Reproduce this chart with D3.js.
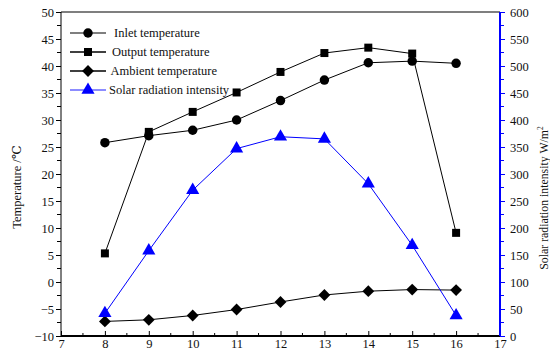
<!DOCTYPE html>
<html>
<head>
<meta charset="utf-8">
<script src="https://cdn.jsdelivr.net/npm/d3@7"></script>
<style>
  body { margin: 0; background: #fff; }
  text { font-family: "Liberation Serif", "DejaVu Serif", serif; fill: #111; }
</style>
</head>
<body>
<div id="chart"></div>
<script>
// hours of day
const hours = [8, 9, 10, 11, 12, 13, 14, 15, 16];
const inletTemp = [25.8, 27.1, 28.1, 30.0, 33.6, 37.4, 40.6, 40.9, 40.5];
const outputTemp = [5.3, 27.8, 31.5, 35.1, 38.9, 42.4, 43.4, 42.3, 9.1];
const ambientTemp = [-7.3, -7.0, -6.2, -5.1, -3.7, -2.4, -1.7, -1.4, -1.5];
const solarRad = [42, 158, 270, 347, 369, 365, 282, 168, 38];
const seriesNames = ['Inlet temperature', 'Output temperature', 'Ambient temperature', 'Solar radiation intensity'];
const xTicks = [7, 8, 9, 10, 11, 12, 13, 14, 15, 16, 17];
const yTicks = [-10, -5, 0, 5, 10, 15, 20, 25, 30, 35, 40, 45, 50];
const y2Ticks = [0, 50, 100, 150, 200, 250, 300, 350, 400, 450, 500, 550, 600];

const W = 550, H = 352;
const margin = {top: 12, right: 50, bottom: 16, left: 61};
const width = W - margin.left - margin.right,
    height = H - margin.top - margin.bottom;

const svg = d3.select('#chart').append('svg').attr('width', W).attr('height', H);
const g = svg.append('g').attr('transform', 'translate(' + margin.left + ',' + margin.top + ')');

let x = d3.scaleLinear().domain([7, 17]).range([0, width]);
let y = d3.scaleLinear().domain([-10, 50]).range([height, 0]);
let y2 = d3.scaleLinear().domain([0, 600]).range([height, 0]);

// top border
g.append('line').attr('x1', 0).attr('x2', width).attr('y1', 0).attr('y2', 0)
    .attr('stroke', '#000').attr('stroke-width', 1.2);

// minor ticks sit halfway between majors
const minor = (ticks) => ticks.slice(0, -1).map((t, i) => (t + ticks[i + 1]) / 2);

// x axis (ticks inward)
let xAxis = g.append('g').attr('transform', 'translate(0,' + height + ')')
    .call(d3.axisBottom(x).tickValues(xTicks).tickSize(-5).tickPadding(3));
xAxis.selectAll('line.minor').data(minor(xTicks)).enter().append('line')
    .attr('x1', d => x(d)).attr('x2', d => x(d)).attr('y1', 0).attr('y2', -3).attr('stroke', '#000');

// left axis
let yAxis = g.append('g').call(d3.axisLeft(y).tickValues(yTicks).tickSize(5).tickPadding(2));
yAxis.selectAll('line.minor').data(minor(yTicks)).enter().append('line')
    .attr('x1', 0).attr('x2', -4).attr('y1', d => y(d)).attr('y2', d => y(d)).attr('stroke', '#000');

// right axis (blue)
let y2Axis = g.append('g').attr('transform', 'translate(' + width + ',0)')
    .call(d3.axisRight(y2).tickValues(y2Ticks).tickSize(5).tickPadding(5));
y2Axis.selectAll('line.minor').data(minor(y2Ticks)).enter().append('line')
    .attr('x1', 0).attr('x2', 4).attr('y1', d => y2(d)).attr('y2', d => y2(d)).attr('stroke', '#00f');
y2Axis.selectAll('.tick line').attr('stroke', '#00f');

[xAxis, yAxis, y2Axis].forEach(a => {
    a.selectAll('.tick text').style('font-size', '12.5px')
        .style('font-family', '"Liberation Serif", serif').attr('fill', '#111');
});
xAxis.select('.domain').attr('d', 'M0,0H' + width).attr('stroke-width', 2);
yAxis.select('.domain').attr('d', 'M0,' + height + 'V0');
y2Axis.select('.domain').attr('d', 'M0,' + height + 'V0').attr('stroke', '#00f').attr('stroke-width', 2);

// axis titles
svg.append('text').attr('transform', 'translate(21,' + (margin.top + 175) + ') rotate(-90)')
    .attr('text-anchor', 'middle').style('font-size', '12.5px').text('Temperature /℃');
let rt = svg.append('text').attr('transform', 'translate(548,' + 198 + ') rotate(-90)')
    .attr('text-anchor', 'middle').style('font-size', '11.8px');
rt.append('tspan').text('Solar radiation intensity W/m');
rt.append('tspan').attr('dy', -5).style('font-size', '7.5px').text('2');

// series: circle, square, diamond (rotated square), triangle
const symbols = [d3.symbolCircle, d3.symbolSquare, d3.symbolSquare, d3.symbolTriangle];
const sizes = [70, 64, 70, 75];
const rotations = [0, 0, 45, 0];
const colors = ['#000', '#000', '#000', '#00f'];
const series = [
    {vals: inletTemp, sc: y},
    {vals: outputTemp, sc: y},
    {vals: ambientTemp, sc: y},
    {vals: solarRad, sc: y2}
];
series.forEach((s, i) => {
    let line = d3.line().x((d, j) => x(hours[j])).y(d => s.sc(d));
    g.append('path').datum(s.vals).attr('d', line).attr('fill', 'none')
        .attr('stroke', colors[i]).attr('stroke-width', 1);
    g.append('g').selectAll('path').data(s.vals).enter().append('path')
        .attr('d', d3.symbol().type(symbols[i]).size(sizes[i]))
        .attr('transform', (d, j) => 'translate(' + x(hours[j]) + ',' + s.sc(d) + ') rotate(' + rotations[i] + ')')
        .attr('fill', colors[i]);
});

// legend
const legendY = [33, 52, 71, 90];
const legendTx = [114, 112, 110.5, 109];
let legend = svg.append('g');
seriesNames.forEach((name, i) => {
    let lg = legend.append('g').attr('transform', 'translate(0,' + legendY[i] + ')');
    lg.append('line').attr('x1', 70).attr('x2', 106).attr('y1', 0).attr('y2', 0)
        .attr('stroke', i === 3 ? '#66f' : (i === 0 ? '#555' : '#000')).attr('stroke-width', 1.3);
    lg.append('path').attr('d', d3.symbol().type(symbols[i]).size(sizes[i]))
        .attr('transform', 'translate(88,0) rotate(' + rotations[i] + ')').attr('fill', colors[i]);
    lg.append('text').attr('x', legendTx[i]).attr('y', 4).style('font-size', '12.5px').text(name);
});
</script>
</body>
</html>
